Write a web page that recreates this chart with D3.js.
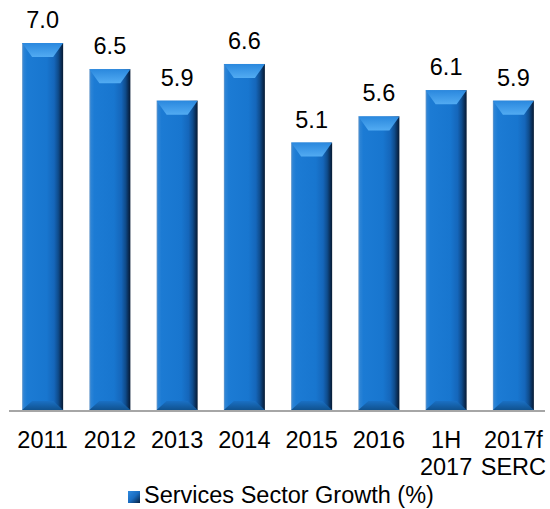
<!DOCTYPE html>
<html>
<head>
<meta charset="utf-8">
<script src="https://cdn.jsdelivr.net/npm/d3@7"></script>
<style>
  html, body { margin: 0; padding: 0; background: #fff; }
  svg { display: block; }
  text { font-family: "Liberation Sans", Arial, sans-serif; fill: #000; }
</style>
</head>
<body>
<svg id="chart" width="550" height="509"></svg>
<script>
// Services sector growth by period
const categories = ["2011", "2012", "2013", "2014", "2015", "2016", "1H\n2017", "2017f\nSERC"];
const values = [7.0, 6.5, 5.9, 6.6, 5.1, 5.6, 6.1, 5.9];
const seriesName = "Services Sector Growth (%)";

const axisY = 410;
const fontSize = 23.5;
const svg = d3.select("#chart");

const x = d3.scaleBand().domain(categories).range([9, 547]).paddingInner(0.39).paddingOuter(0.195);
const y = d3.scaleLinear().domain([0, 7]).range([axisY, 43]);

const defs = svg.append("defs");
const body = defs.append("linearGradient").attr("id", "bodyGrad").attr("x1", 0).attr("x2", 1).attr("y1", 0).attr("y2", 0);
[[0, "#6a9acb"], [0.04, "#2c84d6"], [0.12, "#1c7bd4"], [0.6, "#1876cf"], [0.78, "#1566ba"],
 [0.88, "#0f4c8c"], [0.95, "#0a2d56"], [1, "#061a33"]]
  .forEach(([o, c]) => body.append("stop").attr("offset", o).attr("stop-color", c));

const topG = defs.append("linearGradient").attr("id", "topGrad").attr("x1", 0).attr("x2", 0).attr("y1", 0).attr("y2", 1);
[[0, "#2a88de"], [1, "#52abf2"]].forEach(([o, c]) => topG.append("stop").attr("offset", o).attr("stop-color", c));

const botG = defs.append("linearGradient").attr("id", "botGrad").attr("x1", 0).attr("x2", 0).attr("y1", 0).attr("y2", 1);
[[0, "#1a70c4"], [1, "#10528f"]].forEach(([o, c]) => botG.append("stop").attr("offset", o).attr("stop-color", c));

const legG = defs.append("linearGradient").attr("id", "legGrad").attr("x1", 0).attr("x2", 1).attr("y1", 0).attr("y2", 1);
[[0, "#2f8ae0"], [0.5, "#1a6cc0"], [1, "#06203f"]].forEach(([o, c]) => legG.append("stop").attr("offset", o).attr("stop-color", c));

const data = categories.map((c, i) => ({ cat: c, v: values[i] }));
const bw = x.bandwidth();
const bev = 10, bevTop = 14, bevBot = 9;

const bars = svg.append("g").selectAll("g").data(data).join("g");

bars.append("rect")
  .attr("x", d => x(d.cat)).attr("y", d => y(d.v))
  .attr("width", bw).attr("height", d => axisY - y(d.v))
  .attr("fill", "url(#bodyGrad)");

// top bevel
bars.append("polygon")
  .attr("points", d => {
    const x0 = x(d.cat), y0 = y(d.v);
    return [[x0, y0], [x0 + bw, y0], [x0 + bw - bev, y0 + bevTop], [x0 + bev, y0 + bevTop]].join(" ");
  })
  .attr("fill", "url(#topGrad)");

// bottom bevel
bars.append("polygon")
  .attr("points", d => {
    const x0 = x(d.cat), y1 = axisY;
    return [[x0 + bev, y1 - bevBot], [x0 + bw - bev, y1 - bevBot], [x0 + bw, y1], [x0, y1]].join(" ");
  })
  .attr("fill", "url(#botGrad)");

// value labels
bars.append("text")
  .attr("x", d => x(d.cat) + bw / 2)
  .attr("y", d => y(d.v) - 15)
  .attr("text-anchor", "middle")
  .attr("font-size", fontSize)
  .text(d => d.v.toFixed(1));

// baseline
svg.append("line")
  .attr("x1", 9).attr("x2", 545).attr("y1", axisY + 1).attr("y2", axisY + 1)
  .attr("stroke", "#a6a6a6").attr("stroke-width", 2);

// category labels
const xAxis = d3.axisBottom(x).tickSize(0).tickPadding(0);
const ax = svg.append("g").attr("transform", `translate(0,${axisY})`).call(xAxis);
ax.select(".domain").remove();
ax.selectAll(".tick text").each(function (d) {
  const t = d3.select(this);
  t.text(null).attr("y", 0).attr("dy", null)
    .attr("font-size", fontSize).attr("font-family", "'Liberation Sans', Arial, sans-serif").attr("fill", "#000");
  d.split("\n").forEach((line, i) => {
    t.append("tspan").attr("x", 0).attr("y", 38 + i * 27).text(line);
  });
});

// legend
const leg = svg.append("g");
leg.append("rect").attr("x", 128).attr("y", 491).attr("width", 12).attr("height", 12).attr("fill", "url(#legGrad)");
leg.append("text").attr("x", 144).attr("y", 503).attr("font-size", fontSize).text(seriesName);
</script>
</body>
</html>
